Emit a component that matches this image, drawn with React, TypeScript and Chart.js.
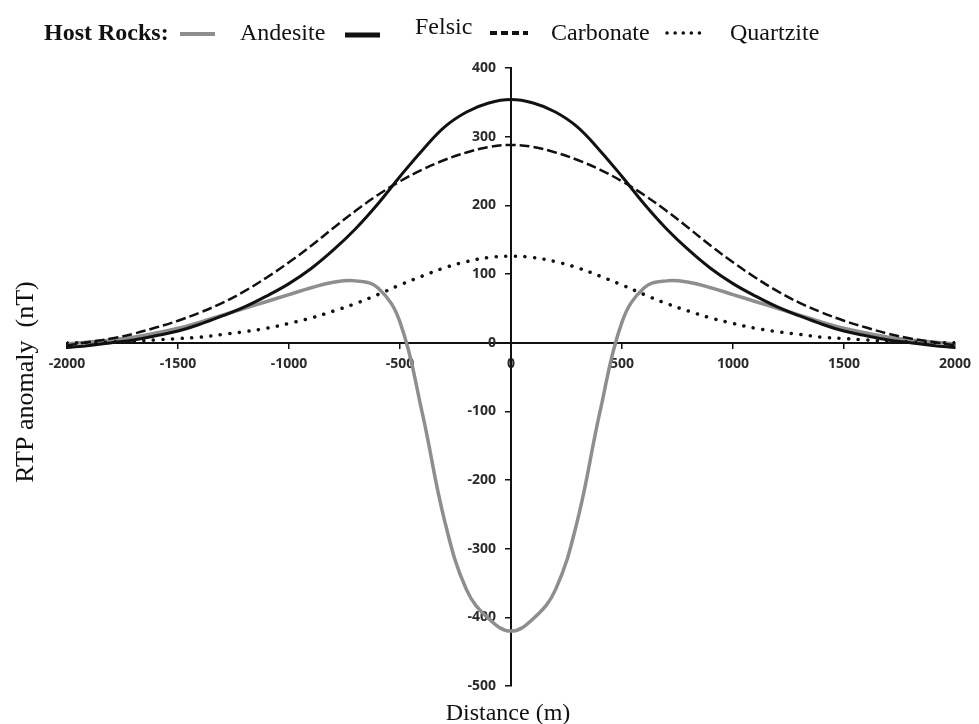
import React, { useEffect, useRef } from 'react';
import { Chart, registerables } from 'chart.js';

Chart.register(...registerables);

// Distance along profile (m)
const distance = [
  -2000, -1900, -1800, -1700, -1600, -1500, -1400, -1300, -1200, -1100, -1000,
  -900, -800, -700, -600, -500, -400, -300, -200, -100, 0,
  100, 200, 300, 400, 500, 600, 700, 800, 900, 1000,
  1100, 1200, 1300, 1400, 1500, 1600, 1700, 1800, 1900, 2000,
];

// RTP anomaly (nT) per host rock
const andesite = [
  -2, 1, 4, 8, 14, 21, 30, 40, 50, 60, 70,
  80, 88, 90, 80, 30, -102, -258, -360, -402, -420,
  -402, -360, -258, -102, 30, 80, 90, 88, 80, 70,
  60, 50, 40, 30, 21, 14, 8, 4, 1, -2,
];
const felsic = [
  -7, -4, 0, 4, 10, 17, 27, 39, 52, 68, 86,
  108, 135, 166, 202, 242, 280, 314, 336, 349, 354,
  349, 336, 314, 280, 242, 202, 166, 135, 108, 86,
  68, 52, 39, 27, 17, 10, 4, 0, -4, -7,
];
const carbonate = [
  -4, 1, 6, 13, 22, 32, 44, 58, 75, 95, 117,
  141, 167, 192, 215, 235, 252, 266, 277, 285, 288,
  285, 277, 266, 252, 235, 215, 192, 167, 141, 117,
  95, 75, 58, 44, 32, 22, 13, 6, 1, -4,
];
const quartzite = [
  0, 0, 1, 2, 4, 6, 8, 12, 16, 21, 28,
  36, 46, 57, 70, 84, 97, 109, 118, 124, 126,
  124, 118, 109, 97, 84, 70, 57, 46, 36, 28,
  21, 16, 12, 8, 6, 4, 2, 1, 0, 0,
];

const xMin = -2000;
const xMax = 2000;
const xStep = 500;
const yMin = -500;
const yMax = 400;
const yStep = 100;

const legendTitle = 'Host Rocks:';
const seriesNames = ['Andesite', 'Felsic', 'Carbonate', 'Quartzite'];
const xTitle = 'Distance (m)';
const yTitle = 'RTP anomaly  (nT)';

const toPoints = (ys: number[]) => distance.map((x, i) => ({ x, y: ys[i] }));

// shift the y tick labels to the left of the centred y axis
const yLabelOffsetPlugin = {
  id: 'yLabelOffset',
  beforeDraw(chart: any) {
    const s = chart.scales.y;
    const axisX = chart.scales.x.getPixelForValue(0);
    const items = s.getLabelItems(chart.chartArea);
    for (const it of items) {
      if (it && it.options && it.options.translation) {
        it.options.translation[0] = axisX - 15;
        it.options.textAlign = 'right';
      }
    }
  },
};

const titlesPlugin = {
  id: 'titlesAndLegend',
  afterDraw(chart: any) {
    const ctx: CanvasRenderingContext2D = chart.ctx;
    ctx.save();
    ctx.fillStyle = '#111';
    ctx.textBaseline = 'alphabetic';
    ctx.textAlign = 'left';

    // Legend
    ctx.font = 'bold 24px "Liberation Serif"';
    ctx.fillText(legendTitle, 44, 40);
    ctx.font = '24px "Liberation Serif"';

    const sample = (x1: number, x2: number, y: number, color: string, w: number, dash: number[], cap: CanvasLineCap) => {
      ctx.save();
      ctx.strokeStyle = color;
      ctx.lineWidth = w;
      ctx.setLineDash(dash);
      ctx.lineCap = cap;
      ctx.beginPath();
      ctx.moveTo(x1, y);
      ctx.lineTo(x2, y);
      ctx.stroke();
      ctx.restore();
    };

    sample(180, 215, 34, '#8e8e8e', 4, [], 'butt');
    ctx.fillText(seriesNames[0], 240, 40);
    sample(345, 380, 35, '#111', 5, [], 'butt');
    ctx.fillText(seriesNames[1], 415, 34);
    sample(490, 528, 33, '#111', 4, [7, 4], 'butt');
    ctx.fillText(seriesNames[2], 551, 40);
    sample(667, 706, 33, '#111', 3.5, [0.1, 8], 'round');
    ctx.fillText(seriesNames[3], 730, 40);

    // Axis titles
    ctx.font = '24px "Liberation Serif"';
    ctx.textAlign = 'center';
    ctx.fillText(xTitle, 508, 720);

    ctx.save();
    ctx.font = '26px "Liberation Serif"';
    ctx.translate(33, 382);
    ctx.rotate(-Math.PI / 2);
    ctx.textAlign = 'center';
    ctx.fillText(yTitle, 0, 0);
    ctx.restore();

    ctx.restore();
  },
};

export default function App() {
  const ref = useRef<HTMLCanvasElement | null>(null);

  useEffect(() => {
    if (!ref.current) return;
    const tickFont = { family: '"Open Sans", "Liberation Sans", sans-serif', size: 14, weight: 'bold' as const };
    const line = (label: string, ys: number[], color: string, width: number, dash: number[], cap: CanvasLineCap) => ({
      label,
      data: toPoints(ys),
      borderColor: color,
      borderWidth: width,
      borderDash: dash,
      borderCapStyle: cap,
      pointRadius: 0,
      tension: 0.4,
      fill: false,
    });
    const chart = new Chart(ref.current, {
      type: 'line',
      data: {
        datasets: [
          line(seriesNames[1], felsic, '#111', 3, [], 'butt'),
          line(seriesNames[2], carbonate, '#111', 2.5, [10, 4], 'butt'),
          line(seriesNames[3], quartzite, '#111', 3.5, [0.1, 9.5], 'round'),
          line(seriesNames[0], andesite, '#8e8e8e', 3.5, [], 'butt'),
        ] as any,
      },
      options: {
        animation: false,
        responsive: false,
        devicePixelRatio: 1,
        layout: { padding: { left: 67, right: 19, top: 68, bottom: 38 } },
        plugins: {
          legend: { display: false },
          tooltip: { enabled: false },
          title: { display: false },
        },
        scales: {
          x: {
            type: 'linear',
            position: { y: 0 } as any,
            min: xMin,
            max: xMax,
            ticks: {
              stepSize: xStep,
              font: tickFont,
              color: '#2b2b2b',
              padding: 8,
              maxRotation: 0,
              autoSkip: false,
              callback: (v: any) => String(v),
            },
            grid: {
              drawOnChartArea: false,
              drawTicks: true,
              tickLength: 5,
              color: '#111',
              lineWidth: 1.5,
            },
            border: { display: true, color: '#111', width: 2 },
          },
          y: {
            type: 'linear',
            position: { x: 0 } as any,
            min: yMin,
            max: yMax,
            ticks: {
              stepSize: yStep,
              font: tickFont,
              color: '#2b2b2b',
              padding: 10,
              autoSkip: false,
              callback: (v: any) => String(v),
            },
            grid: {
              drawOnChartArea: false,
              drawTicks: true,
              tickLength: 5,
              color: '#111',
              lineWidth: 1.5,
            },
            border: { display: true, color: '#111', width: 2 },
          },
        },
      },
      plugins: [yLabelOffsetPlugin, titlesPlugin],
    });
    return () => chart.destroy();
  }, []);

  return (
    <div style={{ position: 'absolute', left: 0, top: 0, width: 979, height: 724, background: '#fff' }}>
      <canvas ref={ref} width={979} height={724} style={{ display: 'block', width: 979, height: 724 }} />
    </div>
  );
}
